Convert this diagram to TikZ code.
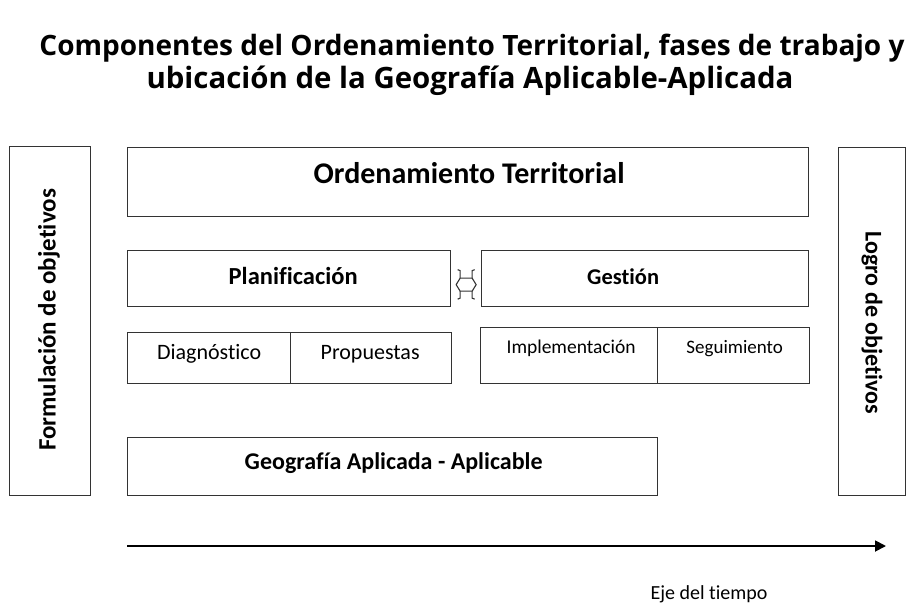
\documentclass[tikz,border=0pt]{standalone}
\usepackage{fontspec}
\setmainfont{Carlito}[Ligatures={NoCommon,NoContextual}]
\newfontfamily\titlefont{Open Sans}[Ligatures={NoCommon}]
\usetikzlibrary{calc,arrows.meta}
\definecolor{edge}{HTML}{333333}
\tikzset{
  box/.style={draw=edge, line width=1.3pt, fill=white, inner sep=0pt, anchor=north west},
  lbl/.style={inner sep=0pt, anchor=base, font=\fontsize{24}{28}\selectfont\bfseries},
  sublbl/.style={inner sep=0pt, anchor=base, font=\fontsize{22}{26}\selectfont},
  vlbl/.style={inner sep=0pt, font=\fontsize{25}{29}\selectfont\bfseries},
  ttl/.style={inner sep=0pt, anchor=base, font=\titlefont\fontsize{28}{32}\selectfont\bfseries},
  darrow/.style={draw=edge, line width=1.1pt},
}
\begin{document}
\begin{tikzpicture}[x=1pt,y=-1pt]
\useasboundingbox[fill=white] (0,0) rectangle (910,607);
% title
\node[ttl] (t1) at (472,56) {Componentes del Ordenamiento Territorial, fases de trabajo y};
\node[ttl, font=\titlefont\fontsize{29.4}{33}\selectfont\bfseries] (t2) at (470,89) {ubicación de la Geografía Aplicable-Aplicada};
% side boxes
\node[box, minimum width=81pt, minimum height=349pt] (form) at (9,146) {};
\node[vlbl, rotate=90] (formt) at (49,320) {Formulación de objetivos};
\node[box, minimum width=67pt, minimum height=348pt] (logro) at (838,147) {};
\node[vlbl, font=\fontsize{24}{28}\selectfont\bfseries, rotate=-90] (logrot) at (872,323) {Logro de objetivos};
% OT
\node[box, minimum width=681pt, minimum height=69pt] (ot) at (127,147) {};
\node[lbl, font=\fontsize{30}{34}\selectfont\bfseries] (ott) at ($(ot.north)+(1,36)$) {Ordenamiento Territorial};
% Planificacion / Gestion
\node[box, minimum width=323pt, minimum height=56pt] (plan) at (127,250) {};
\node[lbl, font=\fontsize{24.5}{28}\selectfont\bfseries] (plant) at ($(plan.north)+(4,34)$) {Planificación};
\node[box, minimum width=327pt, minimum height=56pt] (gest) at (481,250) {};
\node[lbl, font=\fontsize{22.5}{27}\selectfont\bfseries] (gestt) at ($(gest.north)+(-22,34)$) {Gestión};
% double arrow between plan and gest
\coordinate (mid) at ($(plan.east)!0.5!(gest.west)+(0,6)$);
\draw[darrow] ($(mid)+(-6,-6.5)$) -- ($(mid)+(6,-6.5)$) -- ($(mid)+(10,0)$) -- ($(mid)+(6,6.5)$) -- ($(mid)+(-6,6.5)$) -- ($(mid)+(-10,0)$) -- cycle;
\draw[darrow] ($(mid)+(-8.5,-15)$) -- ($(mid)+(-6,-14)$) -- ($(mid)+(-6,-6.5)$);
\draw[darrow] ($(mid)+(8.5,-15)$) -- ($(mid)+(6,-14)$) -- ($(mid)+(6,-6.5)$);
\draw[darrow] ($(mid)+(-8.5,14.5)$) -- ($(mid)+(-6,13.5)$) -- ($(mid)+(-6,6.5)$);
\draw[darrow] ($(mid)+(8.5,14.5)$) -- ($(mid)+(6,13.5)$) -- ($(mid)+(6,6.5)$);
% Diagnostico / Propuestas
\node[box, minimum width=163pt, minimum height=51pt] (diag) at (127,332) {};
\node[box, minimum width=161pt, minimum height=51pt] (prop) at (290,332) {};
\node[sublbl] (diagt) at ($(diag.north)+(0,27)$) {Diagnóstico};
\node[sublbl] (propt) at ($(prop.north)+(-1,27)$) {Propuestas};
% Implementacion / Seguimiento
\node[box, minimum width=177pt, minimum height=56pt] (impl) at (480,327) {};
\node[box, minimum width=152pt, minimum height=56pt] (seg) at (657,327) {};
\node[sublbl, font=\fontsize{19.5}{23}\selectfont] (implt) at ($(impl.north)+(2,26)$) {Implementación};
\node[sublbl, font=\fontsize{19}{23}\selectfont] (segt) at ($(seg.north)+(1,26)$) {Seguimiento};
% Geografia
\node[box, minimum width=530pt, minimum height=58pt] (geo) at (127,437) {};
\node[lbl] (geot) at ($(geo.north)+(1,32)$) {Geografía Aplicada - Aplicable};
% time axis
\coordinate (ts) at (127,546);
\coordinate (te) at (886,546);
\draw[line width=1.8pt, -{Triangle[length=11pt,width=11pt]}] (ts) -- (te);
\node[sublbl, font=\fontsize{20}{24}\selectfont] (eje) at (709,599) {Eje del tiempo};
\end{tikzpicture}
\end{document}
